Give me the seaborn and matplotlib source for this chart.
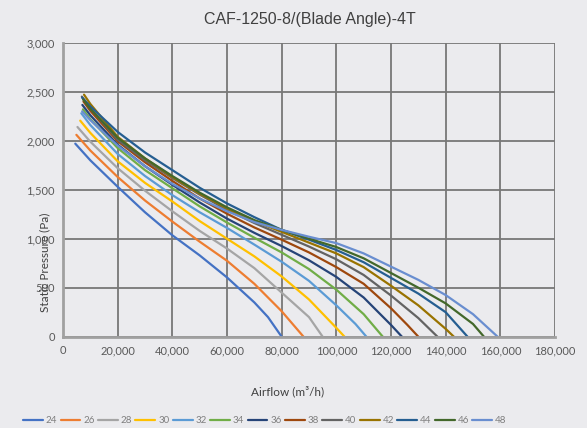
import pandas as pd
import numpy as np
import matplotlib.pyplot as plt
import seaborn as sns

# blade angle curves: airflow (m3/h) and static pressure (Pa)
angles = [24, 26, 28, 30, 32, 34, 36, 38, 40, 42, 44, 46, 48]

flow_24 = [4500, 10000, 20000, 30000, 40000, 50000, 60000, 70000, 75000, 80000]
pres_24 = [1970, 1800, 1530, 1270, 1035, 830, 605, 350, 200, 0]

flow_26 = [4900, 10000, 20000, 30000, 40000, 50000, 60000, 70000, 80000, 84000, 88000]
pres_26 = [2060, 1900, 1630, 1390, 1175, 970, 775, 540, 260, 130, 0]

flow_28 = [5300, 10000, 20000, 30000, 40000, 50000, 60000, 70000, 80000, 90000, 95000]
pres_28 = [2140, 1990, 1720, 1490, 1280, 1080, 900, 700, 450, 200, 0]

flow_30 = [6300, 10000, 20000, 30000, 40000, 50000, 60000, 70000, 80000, 90000, 100000, 103000]
pres_30 = [2205, 2080, 1790, 1570, 1380, 1180, 1000, 820, 615, 380, 90, 0]

flow_32 = [6700, 10000, 20000, 30000, 40000, 50000, 60000, 70000, 80000, 90000, 100000, 107000, 111000]
pres_32 = [2280, 2160, 1865, 1640, 1445, 1270, 1110, 940, 765, 570, 320, 130, 0]

flow_34 = [7300, 10000, 20000, 30000, 40000, 50000, 60000, 70000, 80000, 90000, 100000, 110000, 117000]
pres_34 = [2320, 2220, 1925, 1700, 1515, 1330, 1165, 1010, 860, 690, 480, 230, 0]

flow_36 = [7100, 10000, 20000, 30000, 40000, 50000, 60000, 70000, 80000, 90000, 100000, 110000, 120000, 124000]
pres_36 = [2365, 2260, 1960, 1740, 1550, 1370, 1205, 1060, 925, 780, 610, 400, 120, 0]

flow_38 = [7500, 10000, 20000, 30000, 40000, 50000, 60000, 70000, 80000, 90000, 100000, 110000, 120000, 126000, 130000]
pres_38 = [2400, 2305, 1995, 1780, 1590, 1410, 1255, 1115, 990, 860, 710, 540, 290, 120, 0]

flow_40 = [6900, 10000, 20000, 30000, 40000, 50000, 60000, 70000, 80000, 90000, 100000, 110000, 120000, 130000, 137000]
pres_40 = [2450, 2330, 2010, 1800, 1620, 1450, 1295, 1160, 1040, 920, 790, 630, 420, 190, 0]

flow_42 = [7700, 10000, 20000, 30000, 40000, 50000, 60000, 70000, 80000, 90000, 100000, 110000, 120000, 130000, 140000, 143000]
pres_42 = [2470, 2375, 2040, 1820, 1630, 1460, 1310, 1180, 1070, 960, 850, 710, 520, 320, 80, 0]

flow_44 = [7000, 10000, 20000, 30000, 40000, 50000, 60000, 70000, 80000, 90000, 100000, 110000, 120000, 130000, 140000, 148000]
pres_44 = [2440, 2350, 2090, 1880, 1700, 1520, 1360, 1220, 1090, 990, 885, 760, 600, 440, 250, 0]

flow_46 = [7400, 10000, 20000, 30000, 40000, 50000, 60000, 70000, 80000, 90000, 100000, 110000, 120000, 130000, 140000, 150000, 154000]
pres_46 = [2420, 2325, 2030, 1820, 1640, 1470, 1320, 1190, 1090, 1000, 915, 800, 650, 500, 340, 130, 0]

flow_48 = [7000, 10000, 20000, 30000, 40000, 50000, 60000, 70000, 80000, 90000, 100000, 110000, 120000, 130000, 140000, 150000, 159000]
pres_48 = [2300, 2210, 1950, 1740, 1560, 1410, 1280, 1170, 1090, 1020, 955, 850, 715, 580, 425, 230, 0]

flows = [flow_24, flow_26, flow_28, flow_30, flow_32, flow_34, flow_36,
         flow_38, flow_40, flow_42, flow_44, flow_46, flow_48]
pressures = [pres_24, pres_26, pres_28, pres_30, pres_32, pres_34, pres_36,
             pres_38, pres_40, pres_42, pres_44, pres_46, pres_48]

colors = ['#4472C4', '#ED7D31', '#A5A5A5', '#FFC000', '#5B9BD5', '#70AD47', '#264478',
          '#9E480E', '#636363', '#997300', '#255E91', '#43682B', '#698ED0']

frames = []
for a, f, p in zip(angles, flows, pressures):
    frames.append(pd.DataFrame({'Airflow': f, 'Pressure': p, 'Angle': str(a)}))
df = pd.concat(frames, ignore_index=True)

sns.set_theme(style='whitegrid')
plt.rcParams['font.family'] = ['Lato', 'DejaVu Sans']

bg = '#EBEBEE'
fig = plt.figure(figsize=(5.87, 4.28), dpi=100, facecolor=bg)
ax = fig.add_axes([0.1073, 0.2133, 0.8382, 0.6869], facecolor=bg)

sns.lineplot(data=df, x='Airflow', y='Pressure', hue='Angle', palette=colors,
             sort=False, estimator=None, linewidth=1.6, ax=ax)

ax.set_xlim(0, 180000)
ax.set_ylim(0, 3000)
ax.set_xticks(np.arange(0, 180001, 20000))
ax.set_yticks(np.arange(0, 3001, 500))
ax.set_xticklabels([f'{v:,}' for v in range(0, 180001, 20000)])
ax.set_yticklabels([f'{v:,}' for v in range(0, 3001, 500)])
ax.grid(True, color='#777777', linewidth=1.3)
ax.set_axisbelow(True)
for s in ['top', 'right']:
    ax.spines[s].set_visible(False)
for s in ['left', 'bottom']:
    ax.spines[s].set_color('#A0A0A0')
    ax.spines[s].set_linewidth(2)
ax.tick_params(axis='both', length=0, labelsize=8, labelcolor='#595959', pad=6)

ax.set_xlabel('')
ax.set_ylabel('')
ax.text(0.457, -0.185, 'Airflow (m³/h)', transform=ax.transAxes, ha='center', va='center',
        fontsize=8.5, color='#404040')
ax.text(-0.037, 0.254, 'Static Pressure (Pa)', transform=ax.transAxes, ha='center', va='center',
        rotation=90, fontsize=8.5, color='#404040')
fig.text(0.528, 0.955, 'CAF-1250-8/(Blade Angle)-4T', ha='center', va='center',
         fontsize=11.5, color='#404040', family='Liberation Sans')

ax.legend(loc='center', bbox_to_anchor=(0.41, -0.285), ncol=13, frameon=False,
          fontsize=7, handlelength=2.05, handletextpad=0.3, columnspacing=0.33,
          labelcolor='#7F7F7F', borderpad=0.1)

fig.savefig('out.png', dpi=100, facecolor=bg)
